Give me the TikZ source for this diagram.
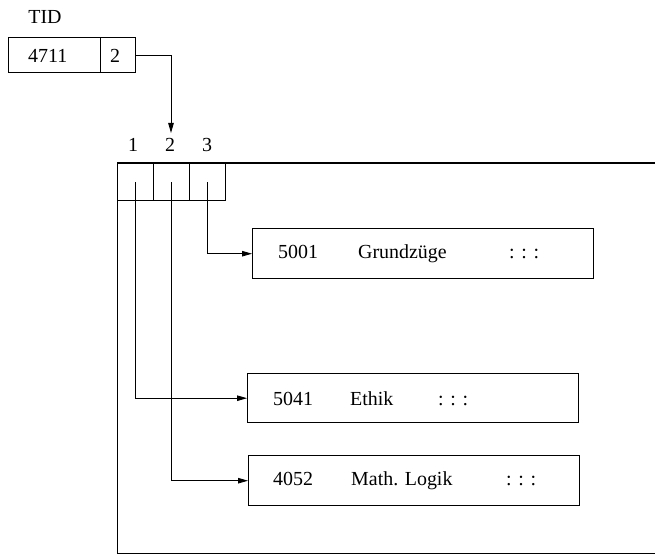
\documentclass[tikz,border=0pt]{standalone}
\usepackage{fontspec}
\setmainfont{Liberation Serif}
\usetikzlibrary{arrows.meta}
\begin{document}
\begin{tikzpicture}[x=1bp,y=-1bp,
  txt/.style={font=\fontsize{20}{24}\selectfont, inner sep=0pt},
  cell/.style={draw, line width=1.4bp, inner sep=0pt, anchor=north west},
  conn/.style={line width=0.9bp},
  arr/.style={line width=0.9bp, -{Triangle[length=10bp,width=5.5bp]}},
  frame/.style={line width=1bp}]
\useasboundingbox (0,0) rectangle (655,559);
% TID
\node[txt] (tid) at (45,17) {TID};
\node[cell, minimum width=92bp, minimum height=35bp] (tida) at (8,37) {};
\node[cell, minimum width=35bp, minimum height=35bp] (tidb) at (100,37) {};
\node[txt, anchor=base west] (t4711) at (28,63) {4711};
\node[txt, anchor=base west] (t2) at (110,63) {2};
% slot labels
\node[txt, anchor=base] (l1) at (133,152) {1};
\node[txt, anchor=base] (l2) at (170,152) {2};
\node[txt, anchor=base] (l3) at (207,152) {3};
\coordinate (ain) at (171,133);
\draw[arr] (tidb.east) -| (ain);
% page frame
\coordinate (ptr) at (655,163);
\coordinate (ptl) at (117,163);
\coordinate (pbl) at (117,553);
\coordinate (pbr) at (655,553);
\draw[line width=2bp] (ptl) -- (ptr);
\draw[frame] (ptl) -- (pbl) -- (pbr);
% slots
\node[cell, minimum width=36bp, minimum height=37bp] (s1) at (117,163) {};
\node[cell, minimum width=36bp, minimum height=37bp] (s2) at (153,163) {};
\node[cell, minimum width=36bp, minimum height=37bp] (s3) at (189,163) {};
% records
\node[cell, minimum width=341bp, minimum height=50bp] (r1) at (252,228) {};
\node[cell, minimum width=331bp, minimum height=49bp] (r2) at (247,373) {};
\node[cell, minimum width=331bp, minimum height=50bp] (r3) at (248,455) {};
\node[txt, anchor=base west] (r1a) at (278,259) {5001};
\node[txt, anchor=base west] (r1b) at (358,259) {Grundzüge};
\node[txt, anchor=base west] (r1c) at (509,259) {: : :};
\node[txt, anchor=base west] (r2a) at (273,405) {5041};
\node[txt, anchor=base west] (r2b) at (350,405) {Ethik};
\node[txt, anchor=base west] (r2c) at (438,405) {: : :};
\node[txt, anchor=base west] (r3a) at (273,485) {4052};
\node[txt, anchor=base west] (r3b) at (351,485) {Math. Logik};
\node[txt, anchor=base west] (r3c) at (506,485) {: : :};
% pointers
\draw[arr] (s3.center) |- (r1.west);
\draw[arr] (s1.center) |- (r2.west);
\draw[arr] (s2.center) |- (r3.west);
\end{tikzpicture}
\end{document}
